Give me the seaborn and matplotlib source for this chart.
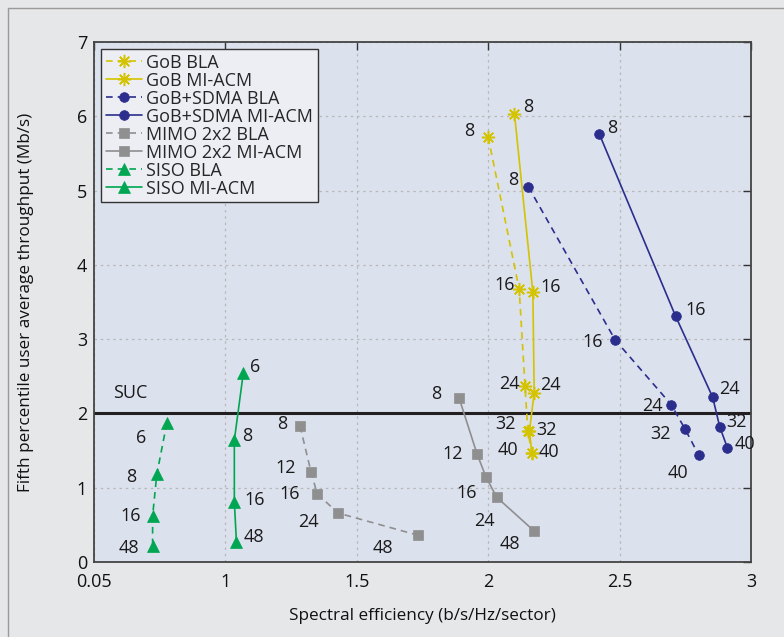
import matplotlib
matplotlib.use("Agg")
import matplotlib.pyplot as plt
import seaborn as sns
import pandas as pd
from matplotlib.lines import Line2D

sns.set_theme(style="white")
plt.rcParams['font.family'] = ['Open Sans', 'DejaVu Sans']

# ---- data ----
gob_bla_x = [2.00, 2.118, 2.14, 2.151, 2.166]
gob_bla_y = [5.72, 3.67, 2.37, 1.76, 1.47]
gob_bla_lab = ["8", "16", "24", "32", "40"]

gob_mi_x = [2.10, 2.170, 2.175, 2.157, 2.166]
gob_mi_y = [6.03, 3.63, 2.28, 1.76, 1.47]
gob_mi_lab = ["8", "16", "24", "32", "40"]

sdma_bla_x = [2.153, 2.483, 2.696, 2.749, 2.801]
sdma_bla_y = [5.05, 2.99, 2.12, 1.79, 1.44]
sdma_bla_lab = ["8", "16", "24", "32", "40"]

sdma_mi_x = [2.423, 2.713, 2.854, 2.881, 2.910]
sdma_mi_y = [5.76, 3.31, 2.22, 1.82, 1.54]
sdma_mi_lab = ["8", "16", "24", "32", "40"]

mimo_bla_x = [1.284, 1.326, 1.349, 1.428, 1.733]
mimo_bla_y = [1.83, 1.21, 0.92, 0.66, 0.36]
mimo_bla_lab = ["8", "12", "16", "24", "48"]

mimo_mi_x = [1.889, 1.957, 1.992, 2.033, 2.174]
mimo_mi_y = [2.21, 1.46, 1.14, 0.87, 0.42]
mimo_mi_lab = ["8", "12", "16", "24", "48"]

siso_bla_x = [0.777, 0.739, 0.723, 0.723]
siso_bla_y = [1.87, 1.18, 0.62, 0.21]
siso_bla_lab = ["6", "8", "16", "48"]

siso_mi_x = [1.068, 1.034, 1.034, 1.042]
siso_mi_y = [2.54, 1.64, 0.81, 0.27]
siso_mi_lab = ["6", "8", "16", "48"]

series_names = ["GoB BLA", "GoB MI-ACM", "GoB+SDMA BLA", "GoB+SDMA MI-ACM",
                "MIMO 2x2 BLA", "MIMO 2x2 MI-ACM", "SISO BLA", "SISO MI-ACM"]

x_ticks = [0.5, 1, 1.5, 2, 2.5, 3]
x_tick_labels = ["0.05", "1", "1.5", "2", "2.5", "3"]
y_ticks = [0, 1, 2, 3, 4, 5, 6, 7]
suc_level = 2

# ---- styles ----
YEL = "#d4c300"
NAVY = "#2b2e8c"
GRAY = "#8f8f90"
GREEN = "#00a651"
AST = (8, 2, 0)  # 8-spoke asterisk
DASH = (0, (4, 3))

# label offsets in pixels (dx, dy; dy positive = down)
offs = {
    "GoB BLA": [(-19, -6), (-15, -4), (-16, -2), (-22, -7), (-24, -3)],
    "GoB MI-ACM": [(14, -7), (18, -5), (16, -8), (17, -1), (17, -1)],
    "GoB+SDMA BLA": [(-15, -7), (-22, 2), (-19, 1), (-25, 5), (-21, 18)],
    "GoB+SDMA MI-ACM": [(13, -6), (20, -6), (17, -8), (17, -5), (18, -4)],
    "MIMO 2x2 BLA": [(-18, -2), (-25, -4), (-27, 0), (-29, 9), (-35, 13)],
    "MIMO 2x2 MI-ACM": [(-23, -4), (-24, 0), (-19, 16), (-12, 24), (-24, 13)],
    "SISO BLA": [(-26, 15), (-26, 3), (-22, 0), (-24, 2)],
    "SISO MI-ACM": [(12, -6), (13, -4), (20, -2), (17, -5)],
}

specs = [
    ("GoB BLA", gob_bla_x, gob_bla_y, gob_bla_lab, YEL, DASH, AST, 9.5),
    ("GoB MI-ACM", gob_mi_x, gob_mi_y, gob_mi_lab, YEL, "-", AST, 9.5),
    ("GoB+SDMA BLA", sdma_bla_x, sdma_bla_y, sdma_bla_lab, NAVY, DASH, "o", 7),
    ("GoB+SDMA MI-ACM", sdma_mi_x, sdma_mi_y, sdma_mi_lab, NAVY, "-", "o", 7),
    ("MIMO 2x2 BLA", mimo_bla_x, mimo_bla_y, mimo_bla_lab, GRAY, DASH, "s", 7.5),
    ("MIMO 2x2 MI-ACM", mimo_mi_x, mimo_mi_y, mimo_mi_lab, GRAY, "-", "s", 7.5),
    ("SISO BLA", siso_bla_x, siso_bla_y, siso_bla_lab, GREEN, DASH, "^", 8),
    ("SISO MI-ACM", siso_mi_x, siso_mi_y, siso_mi_lab, GREEN, "-", "^", 8),
]

fig = plt.figure(figsize=(7.84, 6.37), dpi=100)
fig.patch.set_facecolor("#e6e7e8")
ax = fig.add_axes([94 / 784, 1 - 562 / 637, (751 - 94) / 784, (562 - 42) / 637])
ax.set_facecolor("#dce1ee")

handles = []
for name, xs, ys, labs, col, ls, mk, ms in specs:
    df = pd.DataFrame({"x": xs, "y": ys})
    mew = 1.1 if mk == AST else 0.5
    sns.lineplot(data=df, x="x", y="y", sort=False, estimator=None, ax=ax,
                 color=col, linestyle=ls, linewidth=1.2, marker=mk,
                 markersize=ms, markeredgecolor=col, markerfacecolor=col,
                 markeredgewidth=mew, legend=False, zorder=3)
    for (xx, yy, lb), (dx, dy) in zip(zip(xs, ys, labs), offs[name]):
        ax.annotate(lb, (xx, yy), xytext=(dx * 0.72, -dy * 0.72), textcoords="offset points",
                    ha="center", va="center", fontsize=13, color="#1a1a1a", zorder=4)
    handles.append(Line2D([], [], color=col, linestyle=ls, linewidth=1.2, marker=mk,
                          markersize=ms, markerfacecolor=col, markeredgecolor=col,
                          markeredgewidth=mew, label=name))

ax.axhline(suc_level, color="#231f20", linewidth=2.2, zorder=2)
ax.text(0.637, 2.27, "SUC", fontsize=13, ha="center", va="center", color="#1a1a1a")

ax.set_xlim(0.5, 3)
ax.set_ylim(0, 7)
ax.set_xticks(x_ticks)
ax.set_xticklabels(x_tick_labels)
ax.set_yticks(y_ticks)
ax.grid(True, color="#b8b8b8", linestyle=(0, (2, 3)), linewidth=0.9)
ax.set_axisbelow(True)
ax.tick_params(axis="both", which="major", direction="in", length=6, width=1,
               top=True, right=True, labelsize=13, colors="#333333", labelcolor="#111111")
ax.tick_params(axis="x", pad=8)
ax.tick_params(axis="y", pad=5)
for s in ax.spines.values():
    s.set_color("#444444")
    s.set_linewidth(1.3)

ax.set_xlabel("Spectral efficiency (b/s/Hz/sector)", fontsize=12.3, color="#111111", labelpad=12)
ax.set_ylabel("Fifth percentile user average throughput (Mb/s)", fontsize=12.3, color="#111111", labelpad=31)

leg = ax.legend(handles=handles, loc="upper left", bbox_to_anchor=(0.0, 1.0),
                borderaxespad=0.4, fontsize=13, frameon=True, fancybox=False,
                handlelength=2.0, handletextpad=0.25, labelspacing=0.0, borderpad=0.25)
leg.get_frame().set_facecolor("#eceef4")
leg.get_frame().set_edgecolor("#333333")
leg.get_frame().set_linewidth(1.0)
leg.get_frame().set_alpha(1)

# outer frame lines (left & top)
fig.add_artist(Line2D([8 / 784, 8 / 784], [0, 1 - 8 / 637], color="#9a9a9a", linewidth=1, transform=fig.transFigure))
fig.add_artist(Line2D([8 / 784, 1], [1 - 8 / 637, 1 - 8 / 637], color="#9a9a9a", linewidth=1, transform=fig.transFigure))

fig.savefig("out.png", dpi=100, facecolor=fig.get_facecolor())
